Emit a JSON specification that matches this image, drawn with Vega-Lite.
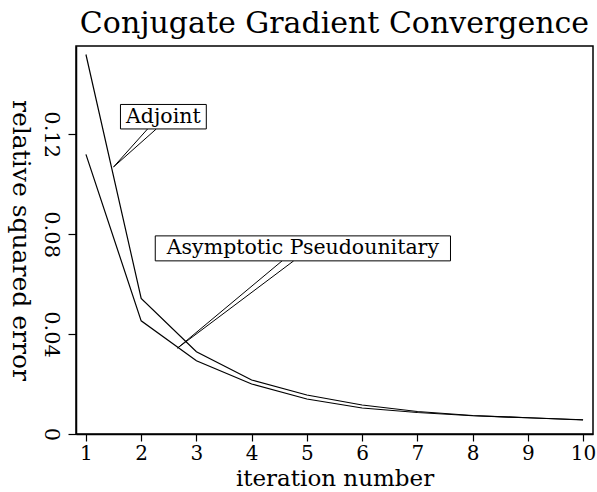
{
  "$schema": "https://vega.github.io/schema/vega-lite/v6.json",
  "width": 517,
  "height": 388,
  "autosize": {"type": "none"},
  "padding": {"left": 76, "top": 46, "right": 5, "bottom": 58},
  "background": "white",
  "title": {
    "text": "Conjugate Gradient Convergence",
    "font": "DejaVu Serif",
    "fontSize": 30,
    "fontWeight": "normal",
    "color": "black",
    "anchor": "middle",
    "offset": 7
  },
  "config": {
    "view": {"stroke": "black", "strokeWidth": 1.5},
    "axis": {
      "grid": false,
      "domainColor": "black",
      "domainWidth": 1.5,
      "tickColor": "black",
      "tickWidth": 1.2,
      "labelColor": "black",
      "titleColor": "black",
      "labelFont": "DejaVu Serif",
      "titleFont": "DejaVu Serif",
      "labelFontSize": 21,
      "titleFontSize": 25,
      "titleFontWeight": "normal"
    }
  },
  "datasets": {
    "series": [
      {"iter": 1, "err": 0.1519, "method": "Adjoint"},
      {"iter": 2, "err": 0.0543, "method": "Adjoint"},
      {"iter": 3, "err": 0.0329, "method": "Adjoint"},
      {"iter": 4, "err": 0.0216, "method": "Adjoint"},
      {"iter": 5, "err": 0.0156, "method": "Adjoint"},
      {"iter": 6, "err": 0.0116, "method": "Adjoint"},
      {"iter": 7, "err": 0.0090, "method": "Adjoint"},
      {"iter": 8, "err": 0.0074, "method": "Adjoint"},
      {"iter": 9, "err": 0.0065, "method": "Adjoint"},
      {"iter": 10, "err": 0.0057, "method": "Adjoint"},
      {"iter": 1, "err": 0.1119, "method": "Asymptotic Pseudounitary"},
      {"iter": 2, "err": 0.0453, "method": "Asymptotic Pseudounitary"},
      {"iter": 3, "err": 0.0293, "method": "Asymptotic Pseudounitary"},
      {"iter": 4, "err": 0.0200, "method": "Asymptotic Pseudounitary"},
      {"iter": 5, "err": 0.0140, "method": "Asymptotic Pseudounitary"},
      {"iter": 6, "err": 0.0104, "method": "Asymptotic Pseudounitary"},
      {"iter": 7, "err": 0.0086, "method": "Asymptotic Pseudounitary"},
      {"iter": 8, "err": 0.0073, "method": "Asymptotic Pseudounitary"},
      {"iter": 9, "err": 0.0065, "method": "Asymptotic Pseudounitary"},
      {"iter": 10, "err": 0.0056, "method": "Asymptotic Pseudounitary"}
    ],
    "callouts": [
      {"x": 1.5, "y": 0.1069, "x2": 2.116, "y2": 0.1221},
      {"x": 1.5, "y": 0.1069, "x2": 2.274, "y2": 0.1221},
      {"x": 2.659, "y": 0.0344, "x2": 4.551, "y2": 0.0693},
      {"x": 2.659, "y": 0.0344, "x2": 4.761, "y2": 0.0693}
    ],
    "boxes": [
      {"label": "Adjoint", "x": 1.625, "x2": 3.179, "y": 0.1319, "y2": 0.1221, "cx": 2.402, "cy": 0.1270},
      {"label": "Asymptotic Pseudounitary", "x": 2.255, "x2": 7.6, "y": 0.0793, "y2": 0.0693, "cx": 4.928, "cy": 0.0743}
    ]
  },
  "layer": [
    {
      "data": {"name": "series"},
      "mark": {"type": "line", "color": "black", "strokeWidth": 1.2},
      "encoding": {
        "x": {
          "field": "iter", "type": "quantitative",
          "scale": {"domain": [0.82, 10.18], "nice": false, "zero": false},
          "axis": {"values": [1, 2, 3, 4, 5, 6, 7, 8, 9, 10], "title": "iteration number", "tickSize": 7, "labelPadding": 2, "labelFontSize": 20, "titlePadding": 4, "titleFontSize": 23, "labelFlush": false}
        },
        "y": {
          "field": "err", "type": "quantitative",
          "scale": {"domain": [0, 0.1553], "nice": false},
          "axis": {"values": [0, 0.04, 0.08, 0.12], "format": "~g", "title": "relative squared error", "tickSize": 8, "labelAngle": 90, "labelAlign": "center", "labelBaseline": "top", "labelPadding": 7, "titleAngle": 90, "titleBaseline": "top", "titlePadding": 8, "labelFlush": false}
        },
        "detail": {"field": "method"}
      }
    },
    {
      "data": {"name": "callouts"},
      "mark": {"type": "rule", "color": "black", "strokeWidth": 1},
      "encoding": {
        "x": {"field": "x", "type": "quantitative"},
        "y": {"field": "y", "type": "quantitative"},
        "x2": {"field": "x2"},
        "y2": {"field": "y2"}
      }
    },
    {
      "data": {"name": "boxes"},
      "mark": {"type": "rect", "fill": "white", "stroke": "black", "strokeWidth": 1},
      "encoding": {
        "x": {"field": "x", "type": "quantitative"},
        "x2": {"field": "x2"},
        "y": {"field": "y", "type": "quantitative"},
        "y2": {"field": "y2"}
      }
    },
    {
      "data": {"name": "boxes"},
      "mark": {"type": "text", "font": "DejaVu Serif", "fontSize": 20.5, "color": "black", "align": "center", "baseline": "middle"},
      "encoding": {
        "x": {"field": "cx", "type": "quantitative"},
        "y": {"field": "cy", "type": "quantitative"},
        "text": {"field": "label"}
      }
    }
  ]
}
